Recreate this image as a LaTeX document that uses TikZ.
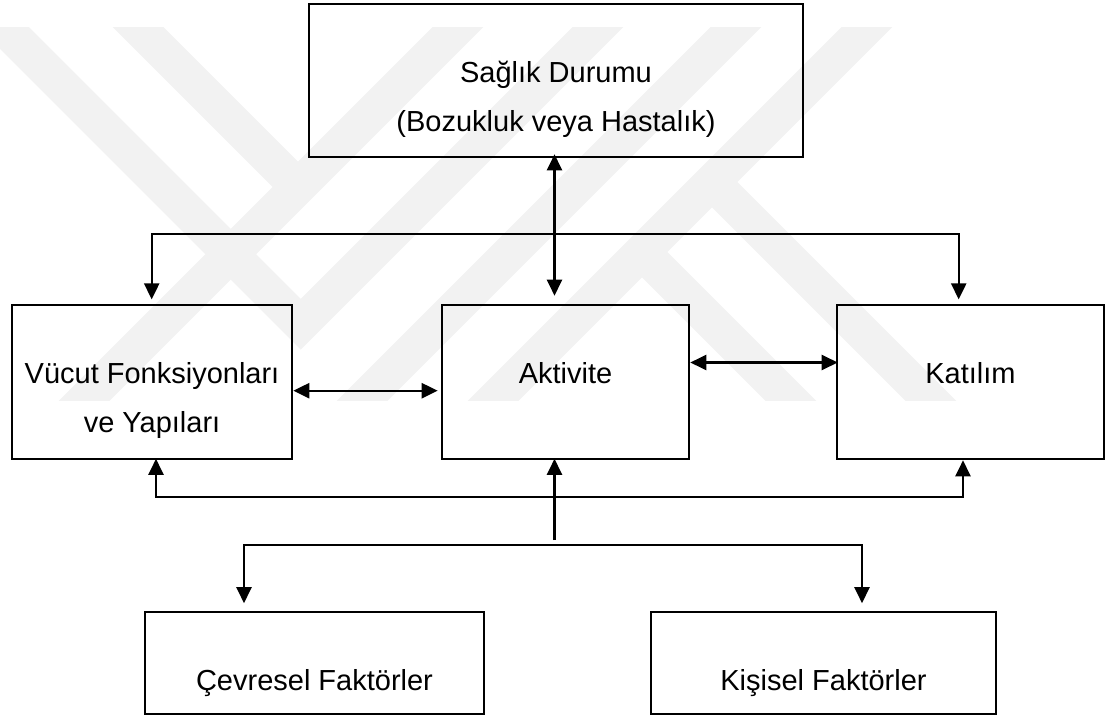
\documentclass[tikz,border=0pt]{standalone}
\usepackage{fontspec}
\setmainfont{Liberation Sans}
\usetikzlibrary{arrows.meta,calc}

\begin{document}
\begin{tikzpicture}[x=1pt,y=-1pt,
    kutu/.style={draw, line width=2.6pt, inner sep=0pt},
    yazi/.style={align=center, anchor=base, inner sep=0pt, font=\fontsize{29}{49}\selectfont},
    hat/.style={line width=2.3pt},
    tek/.style={hat, -{Triangle[length=16pt,width=15pt]}},
    cift/.style={hat, {Triangle[length=16pt,width=15pt]}-{Triangle[length=16pt,width=15pt]}},
    filigran/.style={line width=36pt, black!5}]
  \useasboundingbox (0,0) rectangle (1105,717);
  % Watermark
  \begin{scope}
    \clip (0,28) rectangle (1105,400);
    \draw[filigran, line join=miter] (-20,3.5) -- (300.75,324.25) -- (625,0);
    \draw[filigran] (111,0) -- (298,187);
    \draw[filigran] (485,0) -- (63,422);
    \draw[filigran] (763,0) -- (341,422);
    \draw[filigran] (894,0) -- (472,422);
    \draw[filigran] (712,182) -- (952,422);
    \draw[filigran] (642,252) -- (812,422);
  \end{scope}
  % Boxes
  \node[kutu, minimum width=494pt, minimum height=153pt] (saglik) at (556,80.5) {};
  \node[kutu, minimum width=280pt, minimum height=154pt] (vucut) at (152,382) {};
  \node[kutu, minimum width=247pt, minimum height=154pt] (aktivite) at (565.5,382) {};
  \node[kutu, minimum width=267pt, minimum height=154pt] (katilim) at (970.5,382) {};
  \node[kutu, minimum width=339pt, minimum height=102pt] (cevre) at (314.5,663) {};
  \node[kutu, minimum width=345pt, minimum height=102pt] (kisi) at (823.5,663) {};
  % Texts
  \node[yazi, yshift=-129pt] (saglikyazi) at (saglik.north) {Sağlık Durumu\\(Bozukluk veya Hastalık)};
  \node[yazi, yshift=-129pt] (vucutyazi) at (vucut.north) {Vücut Fonksiyonları\\ve Yapıları};
  \node[yazi, yshift=-80pt] (aktiviteyazi) at (aktivite.north) {Aktivite};
  \node[yazi, yshift=-80pt] (katilimyazi) at (katilim.north) {Katılım};
  \node[yazi, yshift=-80pt] (cevreyazi) at (cevre.north) {Çevresel Faktörler};
  \node[yazi, yshift=-80pt] (kisiyazi) at (kisi.north) {Kişisel Faktörler};
  % Connectors
  \coordinate (orta) at (554.5,0);
  \coordinate (sol) at (151.7,234);
  \coordinate (sag) at (958.7,234);
  \coordinate (altsol) at (156,497);
  \coordinate (altsag) at (963,497);
  \coordinate (catal) at (554.5,540);
  \coordinate (alt1) at (244,545);
  \coordinate (alt2) at (862,545);
  \draw[cift] ($(saglik.south -| orta)+(0,-4)$) -- ($(aktivite.north -| orta)+(0,-8)$);
  \draw[cift] ($(vucut.north -| sol)+(0,-4.3)$) -- (sol) -- (sag) -- ($(katilim.north -| sag)+(0,-4.3)$);
  \draw[cift] ([yshift=-8.7pt]vucut.east) -- ([xshift=-3pt,yshift=-8.7pt]aktivite.west);
  \draw[cift] ([yshift=19.5pt]aktivite.east) -- ([xshift=2pt,yshift=19.5pt]katilim.west);
  \draw[cift] ($(vucut.south -| altsol)+(0,-1.5)$) -- (altsol) -- (altsag) -- (katilim.south -| altsag);
  \draw[tek] (catal) -- ($(aktivite.south -| orta)+(0,-1.5)$);
  \draw[cift] ($(cevre.north -| alt1)+(0,-7.5)$) -- (alt1) -- (alt2) -- ($(kisi.north -| alt2)+(0,-7.5)$);
\end{tikzpicture}
\end{document}
